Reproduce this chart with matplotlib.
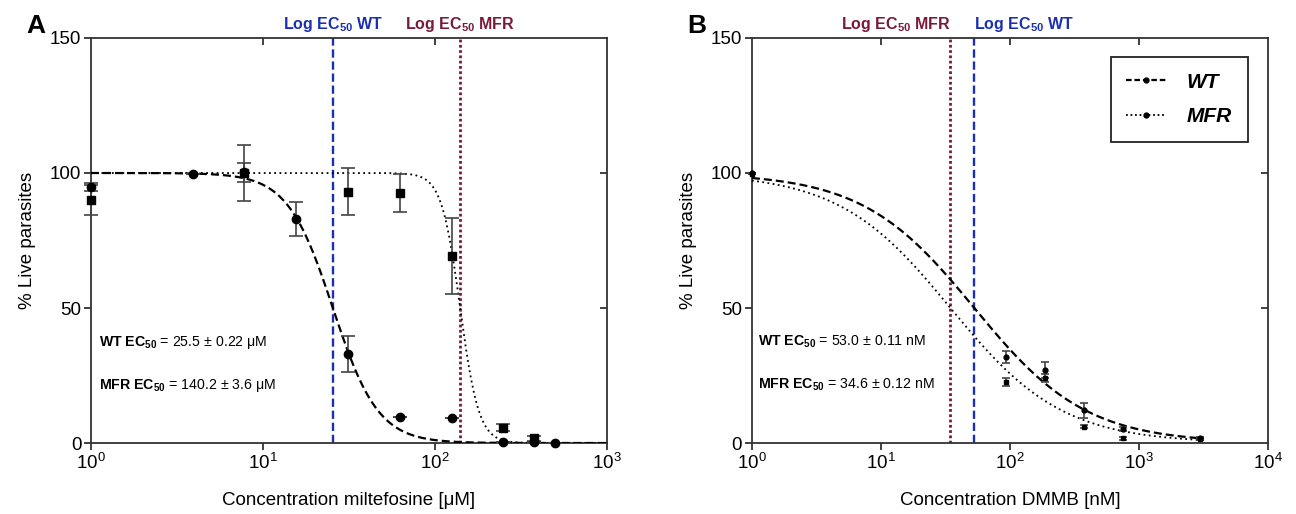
import numpy as np
import matplotlib
matplotlib.use("Agg")
import matplotlib.pyplot as plt
from matplotlib.lines import Line2D
from matplotlib.ticker import NullLocator

plt.rcParams["font.family"] = ["Liberation Sans", "DejaVu Sans"]
plt.rcParams["mathtext.fontset"] = "custom"
plt.rcParams["mathtext.rm"] = "Liberation Sans"
plt.rcParams["mathtext.it"] = "Liberation Sans:italic"
plt.rcParams["mathtext.bf"] = "Liberation Sans:bold"

# ---- Panel A: miltefosine ----
a_wt_conc = [1, 3.9, 7.8, 15.6, 31.25, 62.5, 125, 250, 375, 500]
a_wt_live = [94.9, 99.5, 100.2, 82.9, 33.0, 9.7, 9.1, 0.2, 0.5, 0.0]
a_wt_err = [1.5, 0, 3.4, 6.4, 6.8, 0, 0, 0, 0, 0]
a_mfr_conc = [1, 7.8, 31.25, 62.5, 125, 250, 375]
a_mfr_live = [90.0, 100.1, 93.1, 92.5, 69.3, 5.7, 1.7]
a_mfr_err = [5.5, 10.4, 8.6, 7.0, 14.2, 1.4, 1.0]
a_ec50 = {"WT": 25.5, "MFR": 140.2}
a_ec50_sd = {"WT": "0.22", "MFR": "3.6"}
a_hill = {"WT": 3.3, "MFR": 8.0}

# ---- Panel B: DMMB ----
b_wt_conc = [1, 93.75, 187.5, 375, 750, 3000]
b_wt_live = [100.0, 32.0, 27.0, 12.2, 5.1, 1.7]
b_wt_err = [0, 2.2, 3.0, 2.8, 0.8, 0.5]
b_mfr_conc = [1, 93.75, 187.5, 375, 750, 3000]
b_mfr_live = [99.5, 22.7, 24.0, 6.0, 1.7, 1.4]
b_mfr_err = [0, 1.5, 1.5, 0.6, 0.5, 0.4]
b_ec50 = {"WT": 53.0, "MFR": 34.6}
b_ec50_sd = {"WT": "0.11", "MFR": "0.12"}
b_hill = {"WT": 1.0, "MFR": 1.0}

BLUE = "#1b2fb4"
RED = "#7a1a3a"
SPINE = "#333333"


def dose_response(x, ec50, hill):
    return 100.0 / (1.0 + (x / ec50) ** hill)


fig = plt.figure(figsize=(12.96, 5.14), dpi=100)
axA = fig.add_axes([0.0702, 0.1381, 0.3981, 0.788])
axB = fig.add_axes([0.5802, 0.1381, 0.3981, 0.788])


def style_axes(ax, xmax, xlabel):
    ax.set_xscale("log")
    ax.set_xlim(1, xmax)
    ax.set_ylim(0, 150)
    ax.set_yticks([0, 50, 100, 150])
    ax.xaxis.set_minor_locator(NullLocator())
    for s in ax.spines.values():
        s.set_linewidth(1.3)
        s.set_color(SPINE)
    ax.tick_params(axis="both", which="major", direction="out", length=5,
                   width=1.3, color=SPINE, labelsize=13.5, pad=2)
    # inward ticks on the top and right spines
    inner = [10.0 ** k for k in range(1, int(round(np.log10(xmax))))]
    sec_x = ax.secondary_xaxis("top")
    sec_x.set_xticks(inner)
    sec_x.xaxis.set_minor_locator(NullLocator())
    sec_x.tick_params(which="both", direction="in", length=5, width=1.3,
                      color=SPINE, labeltop=False)
    sec_x.spines["top"].set_visible(False)
    sec_y = ax.secondary_yaxis("right")
    sec_y.set_yticks([50, 100])
    sec_y.yaxis.set_minor_locator(NullLocator())
    sec_y.tick_params(which="both", direction="in", length=5, width=1.3,
                      color=SPINE, labelright=False)
    sec_y.spines["right"].set_visible(False)
    ax.set_xlabel(xlabel, fontsize=13.5, labelpad=14)
    ax.set_ylabel("% Live parasites", fontsize=13.5, labelpad=10)


def draw_panel(ax, xmax, xcurve_max, wt, mfr, ec50, sd, hill, unit, ms, cap,
               letter, xlabel, label_align):
    style_axes(ax, xmax, xlabel)
    xs = np.logspace(0, np.log10(xcurve_max), 400)
    ax.plot(xs, dose_response(xs, ec50["WT"], hill["WT"]), color="black",
            lw=1.6, dashes=(3.6, 1.8), zorder=3)
    ax.plot(xs, dose_response(xs, ec50["MFR"], hill["MFR"]), color="black",
            lw=1.3, dashes=(1.0, 1.9), zorder=3)

    for (c, v, e), mk in ((wt, "o"), (mfr, "s")):
        cont = ax.errorbar(c, v, yerr=e, fmt=mk, color="black", ms=ms,
                           mec="black", ecolor="#444444", elinewidth=1.2,
                           capsize=cap, capthick=1.2, zorder=4)
        for art in cont.get_children():
            art.set_clip_on(False)

    ax.axvline(ec50["WT"], color=BLUE, lw=1.7, dashes=(3.5, 1.6), zorder=2)
    ax.axvline(ec50["MFR"], color=RED, lw=2.0, dashes=(1.0, 0.9), zorder=2)
    ax.text(ec50["WT"], 151.5, r"$\mathbf{Log\ EC_{50}\ WT}$", color=BLUE,
            ha=label_align["WT"], va="bottom", fontsize=11.5, clip_on=False)
    ax.text(ec50["MFR"], 151.5, r"$\mathbf{Log\ EC_{50}\ MFR}$", color=RED,
            ha=label_align["MFR"], va="bottom", fontsize=11.5, clip_on=False)

    ax.text(1.12, 36, r"$\mathbf{WT\ EC_{50}}$" + f" = {ec50['WT']} ± {sd['WT']} {unit}",
            fontsize=10.2, va="baseline", ha="left")
    ax.text(1.12, 20, r"$\mathbf{MFR\ EC_{50}}$" + f" = {ec50['MFR']} ± {sd['MFR']} {unit}",
            fontsize=10.2, va="baseline", ha="left")

    ax.text(-0.125, 1.0, letter, transform=ax.transAxes, fontsize=19,
            fontweight="bold", ha="left", va="bottom")


draw_panel(axA, 1e3, 1e3, (a_wt_conc, a_wt_live, a_wt_err),
           (a_mfr_conc, a_mfr_live, a_mfr_err), a_ec50, a_ec50_sd, a_hill,
           "μM", 6, 5, "A", "Concentration miltefosine [μM]",
           {"WT": "center", "MFR": "center"})
draw_panel(axB, 1e4, 3000, (b_wt_conc, b_wt_live, b_wt_err),
           (b_mfr_conc, b_mfr_live, b_mfr_err), b_ec50, b_ec50_sd, b_hill,
           "nM", 3.5, 3, "B", "Concentration DMMB [nM]",
           {"WT": "left", "MFR": "right"})

handles = [
    Line2D([], [], color="black", lw=1.6, dashes=(2.5, 1.3), marker="o", ms=3.5),
    Line2D([], [], color="black", lw=1.3, dashes=(1.0, 1.5), marker="o", ms=3.5),
]
leg = axB.legend(handles, ["WT", "MFR"], loc="upper right",
                 bbox_to_anchor=(0.961, 0.953), frameon=True, fancybox=False,
                 edgecolor="#222222", framealpha=1, borderpad=0.75,
                 labelspacing=0.75, handlelength=1.9, handletextpad=1.0,
                 borderaxespad=0,
                 prop={"size": 15, "weight": "bold", "style": "italic"})
leg.get_frame().set_linewidth(1.3)

fig.savefig("out.png", dpi=100, facecolor="white")
